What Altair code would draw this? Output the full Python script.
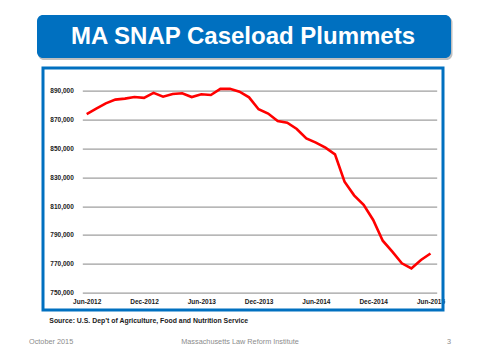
import altair as alt
import pandas as pd

months = ["Jun-2012","Jul-2012","Aug-2012","Sep-2012","Oct-2012","Nov-2012","Dec-2012",
          "Jan-2013","Feb-2013","Mar-2013","Apr-2013","May-2013","Jun-2013","Jul-2013",
          "Aug-2013","Sep-2013","Oct-2013","Nov-2013","Dec-2013","Jan-2014","Feb-2014",
          "Mar-2014","Apr-2014","May-2014","Jun-2014","Jul-2014","Aug-2014","Sep-2014",
          "Oct-2014","Nov-2014","Dec-2014","Jan-2015","Feb-2015","Mar-2015","Apr-2015",
          "May-2015","Jun-2015"]
caseload = [874000, 877700, 881400, 884000, 884700, 885800, 885200,
            888700, 886000, 887900, 888400, 885800, 887700, 887200,
            891500, 891500, 889500, 885600, 877300, 874300, 869200,
            868000, 863600, 857100, 854100, 850600, 846000, 827000,
            817500, 811000, 800400, 786000, 778400, 770300, 766700,
            772600, 777100]
x_tick_labels = ["Jun-2012", "Dec-2012", "Jun-2013", "Dec-2013", "Jun-2014", "Dec-2014", "Jun-2015"]
y_ticks = [750000, 770000, 790000, 810000, 830000, 850000, 870000, 890000]

title = "MA SNAP Caseload Plummets"
source = "Source: U.S. Dep\u2019t of Agriculture, Food and Nutrition Service"
footer_left = "October 2015"
footer_mid = "Massachusetts Law Reform Institute"
footer_right = "3"

BLUE = "#0070C0"

df = pd.DataFrame({"idx": list(range(len(months))), "month": months, "value": caseload})
one = pd.DataFrame({"a": [0]})

label_js = "[" + ",".join("'" + s + "'" for s in x_tick_labels) + "][round(datum.value/6)]"

frame = alt.Chart(one).mark_rect(filled=False, stroke=BLUE, strokeWidth=3).encode(
    x=alt.value(-39.3), x2=alt.value(360.7), y=alt.value(-8.6), y2=alt.value(233.4)
)
shadow = alt.Chart(one).mark_rect(cornerRadius=6, fill="#000000", opacity=0.25).encode(
    x=alt.value(-44.3), x2=alt.value(370.2), y=alt.value(-60.1), y2=alt.value(-16.6)
)
tbox = alt.Chart(one).mark_rect(cornerRadius=6, fill=BLUE).encode(
    x=alt.value(-45.3), x2=alt.value(368.7), y=alt.value(-61.6), y2=alt.value(-18.6)
)
ttext = alt.Chart(one).mark_text(
    text=title, font="Liberation Sans", fontWeight="bold", fontSize=24,
    color="white", align="center", baseline="middle"
).encode(x=alt.value(160.7), y=alt.value(-39.6))

line = alt.Chart(df).mark_line(color="#FF0000", strokeWidth=2.6).encode(
    x=alt.X("idx:Q", scale=alt.Scale(domain=[-0.46, 36.65], nice=False, zero=False),
            axis=alt.Axis(values=[0, 6, 12, 18, 24, 30, 36], labelExpr=label_js, title=None,
                          grid=False, domain=False, ticks=False, labelPadding=6,
                          labelFont="Liberation Sans", labelFontWeight="bold",
                          labelFontSize=6.5, labelColor="#1a1a1a", labelFlush=False)),
    y=alt.Y("value:Q", scale=alt.Scale(domain=[750000, 900000], nice=False, zero=False),
            axis=alt.Axis(values=y_ticks, format=",.0f", title=None, grid=True,
                          gridColor="#868686", gridWidth=1, domain=False, ticks=False,
                          labelPadding=9, labelFont="Liberation Sans",
                          labelFontWeight="bold", labelFontSize=6.5, labelColor="#1a1a1a"))
)

src = alt.Chart(one).mark_text(
    text=source, font="Liberation Sans", fontWeight="bold", fontSize=6.9,
    color="#1a1a1a", align="left", baseline="middle"
).encode(x=alt.value(-33), y=alt.value(244.1))
f1 = alt.Chart(one).mark_text(
    text=footer_left, font="Liberation Sans", fontSize=7.3, color="#8C8C8C",
    align="left", baseline="middle"
).encode(x=alt.value(-53.3), y=alt.value(265.7))
f2 = alt.Chart(one).mark_text(
    text=footer_mid, font="Liberation Sans", fontSize=7.3, color="#8C8C8C",
    align="center", baseline="middle"
).encode(x=alt.value(157.7), y=alt.value(265.7))
f3 = alt.Chart(one).mark_text(
    text=footer_right, font="Liberation Sans", fontSize=7.3, color="#8C8C8C",
    align="center", baseline="middle"
).encode(x=alt.value(366.7), y=alt.value(265.7))

chart = alt.layer(frame, shadow, tbox, ttext, line, src, f1, f2, f3).properties(
    width=354.4, height=215.9,
    autosize=alt.AutoSizeParams(type="none"),
    padding={"left": 74.3, "top": 68.6, "right": 35.3, "bottom": 59.5},
    background="white",
).configure_view(strokeWidth=0)

chart.save("out.html", embed_options={"renderer": "svg", "actions": False})
